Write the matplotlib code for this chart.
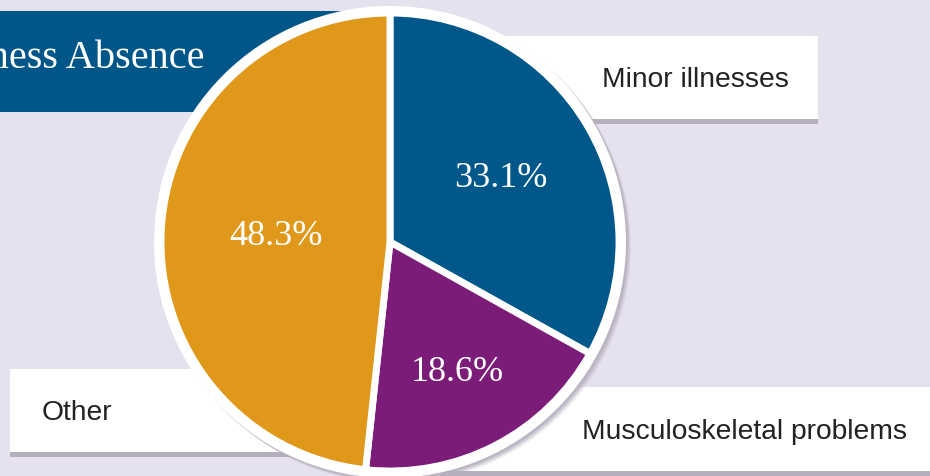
import matplotlib
matplotlib.use("Agg")
import matplotlib.pyplot as plt
from matplotlib.patches import Rectangle, Circle
import numpy as np

# ---- data ----
categories = ["Minor illnesses", "Musculoskeletal problems", "Other"]
shares = [33.1, 18.6, 48.3]
pct_labels = ["33.1%", "18.6%", "48.3%"]
title_text = "Sickness Absence"

# ---- style ----
W, H = 930, 477
BG = "#e6e1ee"
colors = ["#00578a", "#7b1c79", "#df981a"]
TITLE_BG = "#005689"
SHADOW = "#b4aebd"

def Y(y):
    return H - y

fig = plt.figure(figsize=(W / 100, H / 100), dpi=100)
fig.patch.set_facecolor(BG)
ax = fig.add_axes([0, 0, 1, 1])
ax.set_facecolor(BG)

# title box
ax.add_patch(Rectangle((0, Y(113)), 370, 101, facecolor=TITLE_BG, edgecolor="none", zorder=1))
ax.text(204, Y(68), title_text, family="Liberation Serif", fontsize=29, color="white",
        ha="right", va="baseline", zorder=2)

# label boxes (x0, y_top, x1, y_bottom)
boxes = [(330, 37, 818, 120), (440, 388, 940, 472), (10, 370, 330, 453)]
text_pos = [(695, 80, "center"), (907, 432, "right"), (42, 413, "left")]
for (x0, yt, x1, yb), (tx, ty, ha), lab in zip(boxes, text_pos, categories):
    ax.add_patch(Rectangle((x0, Y(yb + 5)), x1 - x0, 5, facecolor=SHADOW, edgecolor="none", zorder=1))
    ax.add_patch(Rectangle((x0, Y(yb)), x1 - x0, yb - yt, facecolor="white", edgecolor="none", zorder=1.5))
    ax.text(tx, Y(ty), lab, family="Liberation Sans", fontsize=20.3, color="#222222",
            ha=ha, va="center", zorder=2)

# pie backing circle + shadow
cx, cy = 390, 243
for off, a in [(5, 0.25), (3.5, 0.45), (2, 0.7)]:
    ax.add_patch(Circle((cx + off, Y(cy) - off), 236, facecolor=SHADOW, edgecolor="none", alpha=a, zorder=3))
ax.add_patch(Circle((cx, Y(cy)), 236, facecolor="white", edgecolor="none", zorder=3.5))

wedges, _ = ax.pie(shares, colors=colors, startangle=90, counterclock=False,
                   center=(cx, Y(cy)), radius=229, explode=[0.022] * 3,
                   wedgeprops=dict(edgecolor="white", linewidth=5, zorder=4))
for w in wedges:
    w.set_zorder(4)

# percentage labels
dists = [128, 146, 114]
for w, lab, d in zip(wedges, pct_labels, dists):
    ang = np.deg2rad((w.theta1 + w.theta2) / 2)
    ax.text(cx + d * np.cos(ang), Y(cy) + d * np.sin(ang), lab, family="Liberation Serif",
            fontsize=26, color="white", ha="center", va="center", zorder=5)

ax.set_xlim(0, W)
ax.set_ylim(0, H)
ax.set_aspect("auto")
ax.axis("off")
fig.savefig("out.png", dpi=100, facecolor=BG)
